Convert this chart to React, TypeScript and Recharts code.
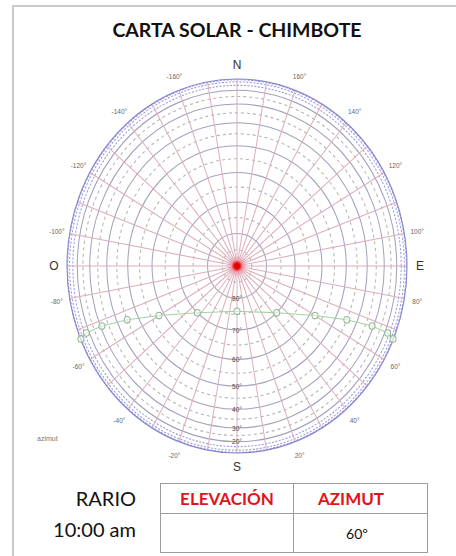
import { RadarChart, PolarGrid, PolarAngleAxis, PolarRadiusAxis, Radar, Curve } from 'recharts'

// sun path: hourly points 6:00 .. 18:00
const hours = ['6:00', '7:00', '8:00', '9:00', '10:00', '11:00', '12:00', '13:00', '14:00', '15:00', '16:00', '17:00', '18:00']
const azimuths = [67, 68, 68, 66, 60, 43, 0, -43, -60, -66, -68, -68, -67]
const elevations = [4, 17, 31, 45, 58, 70, 76, 70, 58, 45, 31, 17, 4]

// radial lines every 10 deg, labels every 20 deg
const azimuthTicks = [
  -180, -170, -160, -150, -140, -130, -120, -110, -100, -90, -80, -70, -60, -50, -40, -30, -20, -10,
  0, 10, 20, 30, 40, 50, 60, 70, 80, 90, 100, 110, 120, 130, 140, 150, 160, 170,
]
const azimuthLabels = [-160, -140, -120, -100, -80, -60, -40, -20, 20, 40, 60, 80, 100, 120, 140, 160]
const cardinalValues = [-180, -90, 0, 90]
const cardinalNames = ['N', 'O', 'S', 'E']

// elevation circles
const elevationLabels = [80, 70, 60, 50, 40, 30, 20]
const solidCircles = [20, 30, 40, 50, 60, 70, 80]
const dashedCircles = [25, 35, 45, 55, 65, 75, 85]
const edgeCircles = [5, 10, 15]
const horizonCircle = [0]

// orthographic projection: radius = cos(elevation)
const proj = (deg: number) => Math.cos((deg * Math.PI) / 180)
const unproj = (v: number) => Math.round((Math.acos(v) * 180) / Math.PI)

const sunData = hours.map((hour, i) => ({ hour, az: azimuths[i], r: proj(elevations[i]) }))

const gridAxes = [
  { id: 'solid', ticks: solidCircles },
  { id: 'dashed', ticks: dashedCircles },
  { id: 'edge', ticks: edgeCircles },
  { id: 'horizon', ticks: horizonCircle },
]

const AngleTick = (props: any) => {
  const { x, y, payload } = props
  const v = payload.value
  const c = cardinalValues.indexOf(v)
  if (c >= 0) {
    return (
      <text x={x} y={y} textAnchor="middle" dominantBaseline="central" fontSize={12} fill="#333" fontFamily="Liberation Sans, Arial">
        {cardinalNames[c]}
      </text>
    )
  }
  if (!azimuthLabels.includes(v)) return <g />
  return (
    <text x={x} y={y} textAnchor="middle" dominantBaseline="central" fontSize={6.5} fill="#666" fontFamily="Liberation Sans, Arial">
      {v}°
    </text>
  )
}

const RadiusTick = (props: any) => {
  const { x, y, payload } = props
  return (
    <text x={x} y={y} textAnchor="middle" dominantBaseline="central" fontSize={6.5} fill="#444" fontFamily="Liberation Sans, Arial">
      {unproj(payload.value)}°
    </text>
  )
}

const SunPath = (props: any) => (
  <Curve points={props.points} type="linear" stroke="#a3d3a3" strokeWidth={1} fill="none" />
)

const cell: React.CSSProperties = {
  position: 'absolute',
  display: 'flex',
  alignItems: 'center',
  justifyContent: 'center',
  boxSizing: 'border-box',
}

export default function App() {
  return (
    <div
      style={{
        position: 'absolute',
        left: 0,
        top: 0,
        width: 456,
        height: 556,
        background: '#fff',
        overflow: 'hidden',
        fontFamily: 'Lato, "Open Sans", sans-serif',
      }}
    >
      <div
        style={{
          position: 'absolute',
          left: 12,
          top: 5,
          width: 460,
          height: 570,
          borderTop: '2px solid #c9c9c9',
          borderLeft: '2px solid #c9c9c9',
        }}
      />
      <div
        style={{
          position: 'absolute',
          left: 67,
          top: 18,
          width: 340,
          textAlign: 'center',
          fontWeight: 700,
          fontSize: 19.5,
          color: '#111',
        }}
      >
        CARTA SOLAR - CHIMBOTE
      </div>

      <div
        style={{
          position: 'absolute',
          left: 237 - 210,
          top: 266 - 200,
          width: 420,
          height: 400,
          transform: 'scaleY(1.1)',
          transformOrigin: '50% 50%',
        }}
      >
        <RadarChart
          width={420}
          height={400}
          data={sunData}
          cx="50%"
          cy="50%"
          outerRadius={170}
          startAngle={90}
          endAngle={450}
          margin={{ top: 0, right: 0, bottom: 0, left: 0 }}
        >
          <PolarGrid gridType="circle" radialLines={false} radiusAxisId="dashed" stroke="#b3b3b3" strokeDasharray="3 3" />
          <PolarGrid gridType="circle" radialLines={false} radiusAxisId="solid" stroke="#a3a0bb" />
          <PolarGrid gridType="circle" radialLines={false} radiusAxisId="edge" stroke="#9a9ade" strokeDasharray="2 1.5" />
          <PolarGrid gridType="circle" polarRadius={[]} stroke="#dcaebb" />
          <PolarGrid gridType="circle" radialLines={false} radiusAxisId="horizon" stroke="#8686cf" strokeWidth={1.1} />

          <PolarAngleAxis
            dataKey="az"
            type="number"
            domain={[-180, 180]}
            ticks={azimuthTicks}
            tickSize={13}
            tickLine={false}
            axisLine={false}
            tick={AngleTick}
          />

          {gridAxes.map((g) => (
            <PolarRadiusAxis
              key={g.id}
              radiusAxisId={g.id}
              type="number"
              domain={[0, 1]}
              ticks={g.ticks.map(proj)}
              tick={false}
              axisLine={false}
            />
          ))}
          <PolarRadiusAxis
            radiusAxisId={0}
            type="number"
            angle={-90}
            orientation="middle"
            domain={[0, 1]}
            ticks={elevationLabels.map(proj)}
            axisLine={false}
            tick={RadiusTick}
          />

          {/* invisible series so that each grid radius axis gets a domain */}
          {gridAxes.map((g) => (
            <Radar
              key={g.id}
              dataKey="r"
              radiusAxisId={g.id}
              stroke="none"
              fill="none"
              dot={false}
              legendType="none"
              isAnimationActive={false}
            />
          ))}

          <Radar
            dataKey="r"
            fill="none"
            stroke="#a3d3a3"
            shape={SunPath}
            dot={{ r: 3, fill: '#fff', fillOpacity: 0.6, stroke: '#94b894', strokeWidth: 1 }}
            isAnimationActive={false}
          />
        </RadarChart>
      </div>

      <div
        style={{
          position: 'absolute',
          left: 237 - 10,
          top: 266 - 10,
          width: 20,
          height: 20,
          borderRadius: '50%',
          background: 'radial-gradient(circle, #e60000 0%, #e60000 18%, rgba(245,130,140,0.45) 42%, rgba(255,255,255,0) 75%)',
        }}
      />

      <div style={{ position: 'absolute', left: 37, top: 435, fontSize: 7, color: '#777', fontFamily: 'Liberation Sans, Arial' }}>
        azimut
      </div>

      <div style={{ position: 'absolute', left: 20, top: 486, width: 116, textAlign: 'right', fontSize: 20, color: '#111', lineHeight: '24px' }}>
        RARIO
      </div>
      <div style={{ position: 'absolute', left: 20, top: 517, width: 116, textAlign: 'right', fontSize: 20, color: '#111', lineHeight: '24px' }}>
        10:00 am
      </div>

      <div style={{ position: 'absolute', left: 160, top: 483, width: 268, height: 70, border: '1px solid #9d9d9d', boxSizing: 'border-box' }} />
      <div style={{ position: 'absolute', left: 293, top: 483, width: 1, height: 70, background: '#9d9d9d' }} />
      <div style={{ position: 'absolute', left: 160, top: 513, width: 268, height: 1, background: '#9d9d9d' }} />
      <div style={{ ...cell, left: 160, top: 483, width: 134, height: 30, color: '#e3121b', fontWeight: 700, fontSize: 17 }}>ELEVACIÓN</div>
      <div style={{ ...cell, left: 294, top: 483, width: 134, height: 30, color: '#e3121b', fontWeight: 700, fontSize: 17, paddingRight: 20 }}>AZIMUT</div>
      <div style={{ ...cell, left: 294, top: 514, width: 134, height: 38, color: '#111', fontSize: 14, paddingRight: 8 }}>60º</div>
    </div>
  )
}
